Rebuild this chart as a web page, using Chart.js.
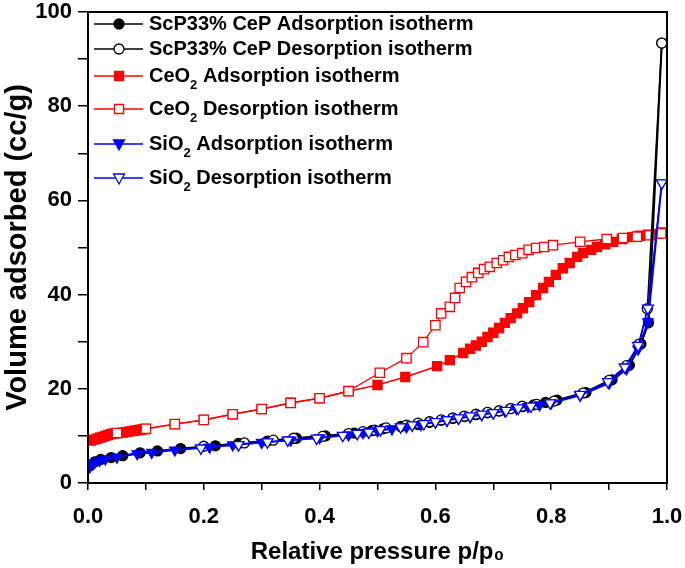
<!DOCTYPE html>
<html>
<head>
<meta charset="utf-8">
<script src="https://cdn.jsdelivr.net/npm/chart.js@4"></script>
<style>
  html, body { margin: 0; padding: 0; background: #fff; }
</style>
</head>
<body>
<canvas id="isothermChart" width="685" height="568"></canvas>
<script>
// ScP33% CeP
const scpAdsP = [0.004, 0.012, 0.022, 0.04, 0.06, 0.09, 0.12, 0.16, 0.22, 0.26, 0.31, 0.36, 0.41, 0.46, 0.49, 0.51, 0.54, 0.57, 0.59, 0.61, 0.63, 0.65, 0.67, 0.69, 0.71, 0.73, 0.75, 0.77, 0.79, 0.81, 0.86, 0.905, 0.935, 0.955, 0.968, 0.991];
const scpAdsV = [3.7, 4.5, 5.0, 5.4, 5.8, 6.4, 6.8, 7.3, 7.9, 8.4, 8.9, 9.5, 10.0, 10.6, 11.1, 11.5, 12.0, 12.4, 12.9, 13.3, 13.7, 14.1, 14.5, 14.9, 15.3, 15.8, 16.2, 16.6, 17.1, 17.6, 19.2, 21.9, 25.0, 29.5, 34.0, 93.4];
const scpDesP = [0.2, 0.27, 0.32, 0.355, 0.405, 0.45, 0.475, 0.495, 0.515, 0.55, 0.57, 0.59, 0.61, 0.63, 0.65, 0.67, 0.69, 0.71, 0.73, 0.75, 0.775, 0.805, 0.855, 0.9, 0.93, 0.952, 0.966, 0.991];
const scpDesV = [7.8, 8.5, 9.1, 9.5, 9.9, 10.5, 10.9, 11.2, 11.7, 12.3, 12.7, 13.0, 13.4, 13.8, 14.2, 14.6, 15.0, 15.3, 15.8, 16.3, 16.7, 17.4, 19.1, 21.8, 24.9, 29.5, 37.0, 93.4];

// CeO2
const ceoAdsP = [0.005, 0.01, 0.015, 0.02, 0.025, 0.03, 0.035, 0.04, 0.045, 0.06, 0.065, 0.07, 0.075, 0.08, 0.085, 0.09, 0.095, 0.1, 0.15, 0.2, 0.25, 0.3, 0.35, 0.4, 0.45, 0.5, 0.548, 0.603, 0.625, 0.648, 0.66, 0.67, 0.68, 0.69, 0.7, 0.71, 0.72, 0.73, 0.741, 0.751, 0.762, 0.774, 0.786, 0.796, 0.808, 0.82, 0.832, 0.845, 0.855, 0.869, 0.879, 0.893, 0.907, 0.922, 0.94, 0.953, 0.967, 0.983, 0.993];
const ceoAdsV = [9.0, 9.2, 9.4, 9.6, 9.8, 10.0, 10.2, 10.4, 10.5, 10.7, 10.8, 10.9, 11.0, 11.1, 11.2, 11.3, 11.4, 11.5, 12.5, 13.4, 14.6, 15.7, 17.0, 18.0, 19.5, 20.8, 22.5, 24.8, 26.1, 27.6, 28.5, 29.2, 30.0, 31.0, 31.9, 32.9, 34.0, 35.0, 36.0, 37.1, 38.4, 39.9, 41.4, 42.7, 44.2, 45.6, 46.7, 48.0, 48.8, 49.5, 50.1, 50.7, 51.2, 51.8, 52.2, 52.5, 52.7, 52.9, 53.2];
const ceoDesP = [0.05, 0.1, 0.15, 0.2, 0.25, 0.3, 0.35, 0.4, 0.45, 0.504, 0.55, 0.579, 0.6, 0.61, 0.625, 0.634, 0.642, 0.653, 0.663, 0.674, 0.684, 0.694, 0.706, 0.717, 0.727, 0.738, 0.75, 0.761, 0.774, 0.788, 0.803, 0.85, 0.896, 0.924, 0.948, 0.97, 0.99];
const ceoDesV = [10.6, 11.5, 12.5, 13.4, 14.6, 15.7, 17.0, 18.0, 19.5, 23.4, 26.5, 29.9, 33.5, 36.0, 37.4, 39.3, 41.4, 42.7, 43.7, 44.6, 45.4, 45.9, 46.7, 47.3, 48.0, 48.4, 48.8, 49.5, 49.9, 50.1, 50.5, 51.2, 51.8, 52.0, 52.3, 52.6, 53.0];

// SiO2
const sioAdsP = [0.003, 0.01, 0.02, 0.03, 0.05, 0.085, 0.11, 0.15, 0.21, 0.25, 0.3, 0.35, 0.4, 0.45, 0.475, 0.5, 0.525, 0.55, 0.575, 0.6, 0.62, 0.64, 0.66, 0.68, 0.7, 0.72, 0.74, 0.76, 0.78, 0.8, 0.85, 0.9, 0.93, 0.95, 0.967, 0.991];
const sioAdsV = [3.4, 4.2, 4.8, 5.1, 5.5, 6.2, 6.5, 7.0, 7.6, 8.1, 8.6, 9.1, 9.6, 10.2, 10.7, 11.1, 11.5, 11.9, 12.4, 12.9, 13.3, 13.7, 14.1, 14.5, 14.9, 15.3, 15.8, 16.2, 16.6, 17.0, 18.6, 21.2, 24.2, 28.4, 34.2, 63.7];
const sioDesP = [0.195, 0.26, 0.31, 0.345, 0.395, 0.44, 0.465, 0.485, 0.505, 0.54, 0.56, 0.58, 0.6, 0.62, 0.64, 0.66, 0.68, 0.7, 0.722, 0.743, 0.765, 0.798, 0.85, 0.898, 0.927, 0.95, 0.967, 0.991];
const sioDesV = [7.4, 8.1, 8.7, 9.1, 9.5, 10.1, 10.5, 10.8, 11.3, 11.9, 12.3, 12.6, 13.0, 13.4, 13.8, 14.2, 14.6, 14.9, 15.4, 15.9, 16.3, 17.0, 18.8, 21.5, 24.6, 29.2, 37.1, 63.7];

const FONT = "'Liberation Sans', Arial, sans-serif";

function toPoints(ps, vs) {
  return ps.map((p, i) => ({ x: p, y: vs[i] }));
}

// legend rows, text parts: [text, isSubscript]
const legendRows = [
  { parts: [["ScP33% CeP Adsorption isotherm", false]], color: "#000000", marker: "circle", filled: true, y: 24 },
  { parts: [["ScP33% CeP Desorption isotherm", false]], color: "#000000", marker: "circle", filled: false, y: 49 },
  { parts: [["CeO", false], ["2", true], [" Adsorption isotherm", false]], color: "#ff0000", marker: "rect", filled: true, y: 76 },
  { parts: [["CeO", false], ["2", true], [" Desorption isotherm", false]], color: "#ff0000", marker: "rect", filled: false, y: 109 },
  { parts: [["SiO", false], ["2", true], [" Adsorption isotherm", false]], color: "#0000ff", marker: "triangle", filled: true, y: 144 },
  { parts: [["SiO", false], ["2", true], [" Desorption isotherm", false]], color: "#0000ff", marker: "triangle", filled: false, y: 178 },
];

function drawMarker(ctx, marker, x, y, color, filled) {
  ctx.beginPath();
  if (marker === "circle") {
    ctx.arc(x, y, 5, 0, Math.PI * 2);
  } else if (marker === "rect") {
    ctx.rect(x - 4.5, y - 4.5, 9, 9);
  } else {
    ctx.moveTo(x - 5.5, y - 4);
    ctx.lineTo(x + 5.5, y - 4);
    ctx.lineTo(x, y + 6);
    ctx.closePath();
  }
  ctx.fillStyle = filled ? color : "#ffffff";
  ctx.fill();
  ctx.lineWidth = 1.3;
  ctx.strokeStyle = color;
  ctx.stroke();
}

const framePlugin = {
  id: "frame",
  afterDraw(chart) {
    const { ctx, chartArea: a } = chart;
    ctx.save();
    ctx.strokeStyle = "#000";
    ctx.lineWidth = 2;
    ctx.strokeRect(a.left, a.top, a.right - a.left, a.bottom - a.top);

    // legend
    const lx0 = a.left + 6, lx1 = a.left + 55, mx = a.left + 31, tx = a.left + 61;
    legendRows.forEach((row) => {
      ctx.beginPath();
      ctx.moveTo(lx0, row.y);
      ctx.lineTo(lx1, row.y);
      ctx.strokeStyle = row.color;
      ctx.lineWidth = 1.5;
      ctx.stroke();
      drawMarker(ctx, row.marker, mx, row.y, row.color, row.filled);

      let x = tx;
      ctx.fillStyle = "#000";
      ctx.textBaseline = "middle";
      row.parts.forEach(([text, sub]) => {
        ctx.font = sub ? "bold 13px " + FONT : "bold 20px " + FONT;
        ctx.fillText(text, x, sub ? row.y + 9 : row.y);
        x += ctx.measureText(text).width;
      });
    });
    ctx.restore();
  },
};

const ctx = document.getElementById("isothermChart").getContext("2d");

new Chart(ctx, {
  type: "scatter",
  data: {
    datasets: [
      {
        label: "ScP33% CeP Adsorption isotherm",
        data: toPoints(scpAdsP, scpAdsV),
        borderColor: "#000000",
        backgroundColor: "#000000",
        pointStyle: "circle",
        pointRadius: 5,
        borderWidth: 2,
        order: 3,
      },
      {
        label: "ScP33% CeP Desorption isotherm",
        data: toPoints(scpDesP, scpDesV),
        borderColor: "#000000",
        backgroundColor: "#ffffff",
        pointStyle: "circle",
        pointRadius: 5,
        borderWidth: 1.5,
        order: 2,
      },
      {
        label: "CeO2 Adsorption isotherm",
        data: toPoints(ceoAdsP, ceoAdsV),
        borderColor: "#ff0000",
        backgroundColor: "#ff0000",
        pointStyle: "rect",
        pointRadius: 6.4,
        borderWidth: 1.5,
        order: 5,
      },
      {
        label: "CeO2 Desorption isotherm",
        data: toPoints(ceoDesP, ceoDesV),
        borderColor: "#ff0000",
        backgroundColor: "#ffffff",
        pointStyle: "rect",
        pointRadius: 6.6,
        borderWidth: 1.3,
        order: 4,
      },
      {
        label: "SiO2 Adsorption isotherm",
        data: toPoints(sioAdsP, sioAdsV),
        borderColor: "#0000ff",
        backgroundColor: "#0000ff",
        pointStyle: "triangle",
        rotation: 180,
        pointRadius: 6,
        borderWidth: 2,
        order: 1,
      },
      {
        label: "SiO2 Desorption isotherm",
        data: toPoints(sioDesP, sioDesV),
        borderColor: "#0000ff",
        backgroundColor: "#ffffff",
        pointStyle: "triangle",
        rotation: 180,
        pointRadius: 6.3,
        borderWidth: 1.3,
        order: 0,
      },
    ].map((d) => ({ ...d, showLine: true, pointBorderColor: d.borderColor, pointBackgroundColor: d.backgroundColor, pointBorderWidth: 1.3 })),
  },
  options: {
    responsive: false,
    animation: false,
    layout: { padding: 0 },
    plugins: {
      legend: { display: false },
      tooltip: { enabled: false },
    },
    scales: {
      x: {
        type: "linear",
        min: 0,
        max: 1,
        afterFit: (scale) => {
          scale.height = 85;
          scale.paddingLeft = 0;
          scale.paddingRight = 18;
        },
        ticks: {
          stepSize: 0.1,
          color: "#000",
          font: { family: FONT, size: 22, weight: "bold" },
          padding: 14,
          maxRotation: 0,
          autoSkip: false,
          callback: (value, index) => (index % 2 === 0 ? value.toFixed(1) : ""),
        },
        grid: { drawOnChartArea: false, drawTicks: true, tickLength: 7, color: "#000", lineWidth: 1.5 },
        border: { display: true, color: "#000", width: 2 },
        title: {
          display: true,
          text: "Relative pressure p/p\u2080",
          color: "#000",
          font: { family: FONT, size: 24, weight: "bold" },
          padding: { top: 4, bottom: 1 },
        },
      },
      y: {
        type: "linear",
        min: 0,
        max: 100,
        afterFit: (scale) => {
          scale.width = 88;
          scale.paddingTop = 12;
          scale.paddingBottom = 0;
        },
        ticks: {
          stepSize: 10,
          color: "#000",
          font: { family: FONT, size: 22, weight: "bold", lineHeight: 1 },
          padding: 6,
          autoSkip: false,
          callback: (value) => (value % 20 === 0 ? value : ""),
        },
        grid: { drawOnChartArea: false, drawTicks: true, tickLength: 10, color: "#000", lineWidth: 1.5 },
        border: { display: true, color: "#000", width: 2 },
        title: {
          display: true,
          text: "Volume adsorbed (cc/g)",
          color: "#000",
          font: { family: FONT, size: 29, weight: "bold", lineHeight: 1 },
          padding: { top: 3, bottom: 0 },
        },
      },
    },
  },
  plugins: [framePlugin],
});
</script>
</body>
</html>
